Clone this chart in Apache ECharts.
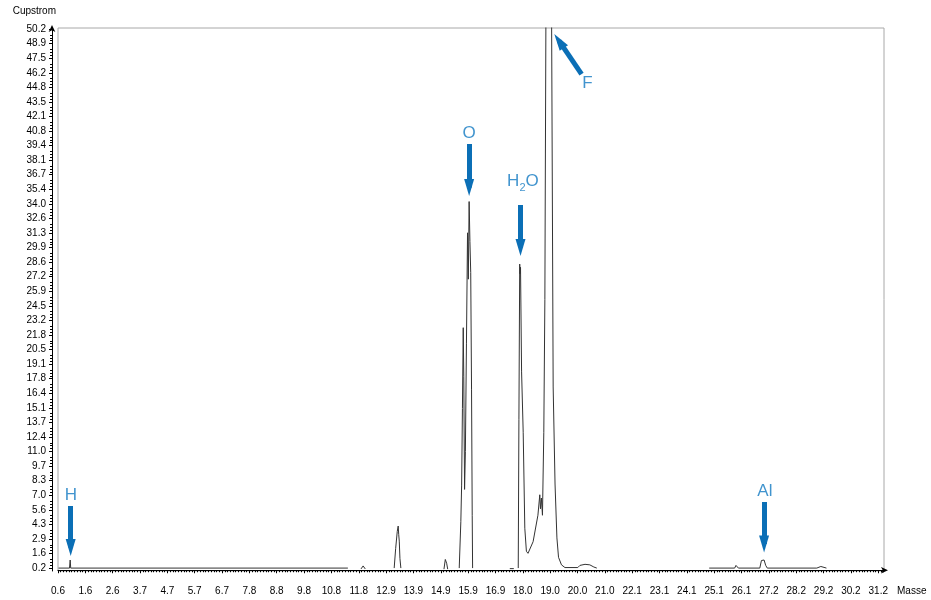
<!DOCTYPE html>
<html><head><meta charset="utf-8">
<script src="https://cdn.jsdelivr.net/npm/echarts@6/dist/echarts.min.js"></script>
<style>html,body{margin:0;padding:0;background:#fff}#c{width:931px;height:600px}</style>
</head><body><div id="c"></div>
<script>
// ---- data (mass, current); null current = gap in the scan ----
const massValues = [
  0.62, 1.03, 1.055, 1.075, 11.43, 11.6,
  11.92, 12.0, 12.08, 12.5,
  13.16, 13.215, 13.275, 13.31, 13.33, 13.35, 13.375, 13.41, 14.0,
  15.02, 15.07, 15.09, 15.12, 15.16, 15.4,
  15.59, 15.65, 15.68, 15.71, 15.74, 15.76, 15.79, 15.82, 15.86, 15.90, 15.93, 15.96, 15.99, 16.02, 16.05, 16.075, 16.09, 16.5,
  17.48, 17.63, 17.7,
  17.795, 17.82, 17.85, 17.86, 17.88, 17.92, 17.98, 18.04, 18.10, 18.16, 18.35, 18.53, 18.60, 18.625, 18.66, 18.70, 18.75, 18.79, 18.83, 18.93, 19.04, 19.10, 19.17, 19.24, 19.30, 19.41, 19.54, 20.02, 20.10, 20.29, 20.47, 20.62, 20.73, 22.0,
  24.93, 25.88, 25.93, 25.98, 26.02, 26.82, 26.88, 26.93, 26.98, 27.04, 27.10, 28.95, 29.02, 29.10, 29.17, 29.31
];
const currentValues = [
  0.2, 0.2, 0.95, 0.2, 0.2, null,
  0.12, 0.4, 0.12, null,
  0.2, 2.0, 3.6, 4.1, 3.3, 2.7, 1.1, 0.2, null,
  0.1, 1.0, 1.17, 0.65, 0.1, null,
  0.2, 4.5, 7.9, 15, 22.5, 18, 7.5, 11, 21, 31.3, 27, 34.2, 30.5, 27.6, 16.8, 5.1, 0.2, null,
  0.15, 0.15, null,
  0.2, 14, 28.4, 27.5, 28.1, 18.4, 12.8, 3.9, 1.76, 1.57, 2.65, 5.1, 7.0, 5.7, 6.7, 5.1, 12.8, 25.1, 52, 62, 52, 17, 8, 3, 1.2, 0.5, 0.25, 0.25, 0.45, 0.55, 0.5, 0.3, 0.2, null,
  0.2, 0.2, 0.45, 0.45, 0.2, 0.2, 0.9, 1.0, 0.95, 0.45, 0.2, 0.2, 0.38, 0.35, 0.2, 0.2
];

// ---- tick labels ----
const xTickLabels = ['0.6','1.6','2.6','3.7','4.7','5.7','6.7','7.8','8.8','9.8','10.8','11.8','12.9','13.9','14.9','15.9','16.9','18.0','19.0','20.0','21.0','22.1','23.1','24.1','25.1','26.1','27.2','28.2','29.2','30.2','31.2'];
const yTickLabels = ['0.2','1.6','2.9','4.3','5.6','7.0','8.3','9.7','11.0','12.4','13.7','15.1','16.4','17.8','19.1','20.5','21.8','23.2','24.5','25.9','27.2','28.6','29.9','31.3','32.6','34.0','35.4','36.7','38.1','39.4','40.8','42.1','43.5','44.8','46.2','47.5','48.9','50.2'];

// ---- annotations (element labels and arrows, in data coordinates) ----
const annoNames   = ['H', 'O', 'H2O', 'F', 'Al'];
const annoLabelX  = [1.078, 15.96, 17.97, 20.38, 27.01];
const annoLabelY  = [6.98, 40.56, 35.88, 45.2, 7.31];
const arrowFromX  = [1.074, 15.96, 17.88, 20.16, 26.98];
const arrowFromY  = [5.96, 39.54, 33.88, 46.03, 6.33];
const arrowToX    = [1.074, 15.96, 17.88, 19.32, 26.98];
const arrowToY    = [2.11, 35.5, 29.94, 49.1, 2.43];

const X_MIN = 0.6, X_STEP = 1.0215, X_MAX = 31.46;
const Y_STEP = 1.3514, Y_FIRST = 0.2, Y_MIN = Y_FIRST - Y_STEP / 5, Y_MAX = 50.3;

const xTickValues = xTickLabels.map((_, i) => X_MIN + i * X_STEP);
const yTickValues = yTickLabels.map((_, i) => Y_FIRST + i * Y_STEP);
const lineData = massValues.map((m, i) => [m, currentValues[i]]);

const blueArrow = '#0b6fb6';
const blueText = '#1279c2';
const axisFont = 'Liberation Sans, Arial, sans-serif';

const chart = echarts.init(document.getElementById('c'), null, {renderer: 'canvas'});
chart.setOption({
  animation: false,
  backgroundColor: '#fff',
  grid: {left: 58, right: 47, top: 28, bottom: 29, show: true, borderColor: '#a8a8a8', borderWidth: 1, backgroundColor: 'transparent'},
  xAxis: {
    type: 'value', min: X_MIN, max: X_MAX, interval: X_STEP, offset: 6,
    name: 'Masse', nameLocation: 'end', nameGap: 13,
    nameTextStyle: {color: '#000', fontSize: 10, fontFamily: axisFont, verticalAlign: 'top', padding: [16, 0, 0, 0]},
    axisLine: {show: true, symbol: ['none', 'arrow'], symbolSize: [5, 7], symbolOffset: [0, 4], lineStyle: {color: '#000', width: 1}},
    axisTick: {show: true, customValues: xTickValues, length: 3, lineStyle: {color: '#000'}},
    minorTick: {show: true, splitNumber: 10, length: 2, lineStyle: {color: '#000'}},
    axisLabel: {customValues: xTickValues, color: '#000', fontSize: 10, fontFamily: axisFont, margin: 9,
      formatter: v => xTickLabels[Math.round((v - X_MIN) / X_STEP)] ?? ''},
    splitLine: {show: false}
  },
  yAxis: {
    type: 'value', min: Y_MIN, max: Y_MAX, interval: Y_STEP, offset: 6,
    name: 'Cupstrom', nameLocation: 'end', nameGap: 12,
    nameTextStyle: {color: '#000', fontSize: 10, fontFamily: axisFont, align: 'right', padding: [0, -4, 0, 0]},
    axisLine: {show: true, symbol: ['none', 'arrow'], symbolSize: [5, 7], symbolOffset: [0, 3], lineStyle: {color: '#000', width: 1}},
    axisTick: {show: true, customValues: yTickValues, length: 3, lineStyle: {color: '#000'}},
    minorTick: {show: true, splitNumber: 5, length: 2, lineStyle: {color: '#000'}},
    axisLabel: {customValues: yTickValues, color: '#000', fontSize: 10, fontFamily: axisFont, margin: 6,
      formatter: v => yTickLabels[Math.round((v - Y_FIRST) / Y_STEP)] ?? ''},
    splitLine: {show: false}
  },
  series: [
    {
      type: 'line', data: lineData, showSymbol: false, symbol: 'none', connectNulls: false, clip: true,
      lineStyle: {color: '#333', width: 1}, silent: true,
      markLine: {
        silent: true, symbol: ['none', 'triangle'], symbolSize: [10, 17],
        lineStyle: {color: blueArrow, width: 5, type: 'solid'},
        label: {show: false},
        data: annoNames.map((_, i) => [
          {coord: [arrowFromX[i], arrowFromY[i]], itemStyle: {color: blueArrow}},
          {coord: [arrowToX[i], arrowToY[i]], itemStyle: {color: blueArrow}}
        ])
      }
    },
    {
      type: 'scatter', symbolSize: 0, silent: true,
      data: annoNames.map((n, i) => ({value: [annoLabelX[i], annoLabelY[i]], name: n})),
      label: {
        show: true, position: 'inside', color: blueText, fontSize: 17, fontFamily: 'Liberation Sans, Arial, sans-serif',
        formatter: p => p.name === 'H2O' ? '{a|H}{s|2}{a|O}' : p.name,
        rich: {
          a: {fontSize: 17, color: blueText, fontFamily: 'Liberation Sans, Arial, sans-serif', verticalAlign: 'bottom', padding: [0, 0, 4, 0]},
          s: {fontSize: 11, color: blueText, fontFamily: 'Liberation Sans, Arial, sans-serif', verticalAlign: 'bottom'}
        }
      }
    }
  ]
});
</script>
</body></html>
